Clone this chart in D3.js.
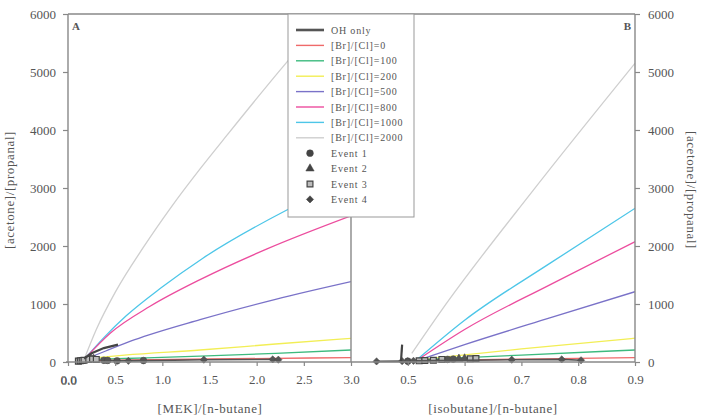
<!DOCTYPE html>
<html>
<head>
<meta charset="utf-8">
<script src="https://cdn.jsdelivr.net/npm/d3@7"></script>
<style>
  body { margin: 0; background: #fff; }
  text { font-family: 'Liberation Serif', 'DejaVu Serif', serif; fill: #555; }
</style>
</head>
<body>
<div id="chart"></div>
<script>
// legend / series names
var seriesNames = ['[Br]/[Cl]=0', '[Br]/[Cl]=100', '[Br]/[Cl]=200', '[Br]/[Cl]=500',
                   '[Br]/[Cl]=800', '[Br]/[Cl]=1000', '[Br]/[Cl]=2000'];
var seriesColors = ['#ef6a6a', '#3dba7e', '#f2ee55', '#7a72c8', '#ec4d9e', '#4dc6e8', '#cfcfcf'];
var eventNames = ['Event 1', 'Event 2', 'Event 3', 'Event 4'];

// panel A: x = [MEK]/[n-butane], y = [acetone]/[propanal]
var ohA = [[0.17, 60], [0.25, 150], [0.38, 240], [0.53, 300]];
var a0 = [[0.16, 20], [0.5, 30], [1.5, 52], [3.0, 75]];
var a100 = [[0.18, 40], [0.6, 60], [1.4, 100], [2.2, 150], [3.0, 207]];
var a200 = [[0.2, 60], [0.6, 120], [1.4, 207], [2.2, 310], [3.0, 408]];
var a500 = [[0.2, 60], [0.4, 190], [0.7, 380], [1.4, 730], [2.2, 1080], [3.0, 1385]];
var a800 = [[0.18, 60], [0.45, 500], [0.87, 960], [1.4, 1420], [2.11, 1950], [3.0, 2520]];
var a1000 = [[0.18, 60], [0.38, 420], [0.62, 800], [0.98, 1270], [1.43, 1790], [2.32, 2620], [3.0, 3150]];
var a2000 = [[0.16, 0], [0.3, 560], [0.5, 1200], [0.8, 1980], [1.1, 2685], [1.4, 3330], [1.69, 3920], [2.32, 5170], [2.7, 5880]];

// panel B: x = [isobutane]/[n-butane]
var ohB = [[0.488, 10], [0.49, 300]];
var b0 = [[0.5, 20], [0.7, 50], [0.9, 75]];
var b100 = [[0.52, 40], [0.7, 120], [0.9, 207]];
var b200 = [[0.52, 40], [0.7, 225], [0.9, 410]];
var b500 = [[0.515, 20], [0.6, 300], [0.75, 760], [0.9, 1212]];
var b800 = [[0.515, 20], [0.6, 560], [0.75, 1330], [0.9, 2075]];
var b1000 = [[0.515, 30], [0.6, 720], [0.75, 1700], [0.9, 2650]];
var b2000 = [[0.507, 150], [0.56, 900], [0.72, 2950], [0.9, 5150]];

// measured events
var ev1A = [[0.38, 30], [0.42, 28], [0.52, 20], [0.8, 25]];
var ev2A = [[0.24, 60], [0.27, 55]];
var ev3A = [[0.11, 15], [0.13, 20], [0.15, 25], [0.17, 30], [0.22, 45], [0.26, 50], [0.3, 45]];
var ev4A = [[0.64, 20], [1.44, 40], [2.17, 45], [2.23, 40]];
var ev1B = [[0.5, 15], [0.57, 45], [0.58, 50]];
var ev2B = [[0.59, 55], [0.6, 60]];
var ev3B = [[0.52, 20], [0.53, 25], [0.545, 30], [0.56, 45], [0.61, 55], [0.62, 60]];
var ev4B = [[0.445, 10], [0.49, 15], [0.5, 10], [0.51, 20], [0.683, 40], [0.771, 45], [0.805, 30]];

var yTicks = [0, 1000, 2000, 3000, 4000, 5000, 6000];
var xTicksA = [0, 0.5, 1.0, 1.5, 2.0, 2.5, 3.0];
var xTicksB = [0.5, 0.6, 0.7, 0.8, 0.9];

var width = 704, height = 417;
var pLeft = 68, pMid = 351, pRight = 635, pTop = 14, pBottom = 362;

var svg = d3.select('#chart')
    .append('svg')
    .attr('width', width)
    .attr('height', height);

var xA = d3.scaleLinear().domain([0, 3]).range([pLeft, pMid]);
var xB = d3.scaleLinear().domain([0.4, 0.9]).range([pMid, pRight]);
var y = d3.scaleLinear().domain([0, 6000]).range([pBottom, pTop]);

// circle, triangle, square, diamond (square turned 45 degrees)
var symbols = [d3.symbolCircle, d3.symbolTriangle, d3.symbolSquare, d3.symbolSquare];
var symSizes = [36, 30, 34, 26];
var symRotate = [0, 0, 0, 45];

var defs = svg.append('defs');
defs.append('clipPath').attr('id', 'clipA')
    .append('rect').attr('x', pLeft).attr('y', pTop).attr('width', pMid - pLeft).attr('height', pBottom - pTop + 6);
defs.append('clipPath').attr('id', 'clipB')
    .append('rect').attr('x', pMid).attr('y', pTop).attr('width', pRight - pMid).attr('height', pBottom - pTop + 6);

function drawPanel(x, clipId, oh, curves, events) {
    var g = svg.append('g').attr('clip-path', 'url(#' + clipId + ')');
    var line = d3.line()
        .x(function(d) { return x(d[0]); })
        .y(function(d) { return y(d[1]); })
        .curve(d3.curveMonotoneX);

    // model curves, grey first so it sits underneath
    for (var i = curves.length - 1; i >= 0; i--) {
        g.append('path')
            .datum(curves[i])
            .attr('d', line)
            .attr('fill', 'none')
            .attr('stroke', seriesColors[i])
            .attr('stroke-width', 1.3);
    }

    // events: joined by a dark line, then symbols
    events.forEach(function(ev, k) {
        g.append('path')
            .datum(ev)
            .attr('d', d3.line().x(function(d) { return x(d[0]); }).y(function(d) { return y(d[1]); }))
            .attr('fill', 'none')
            .attr('stroke', '#555')
            .attr('stroke-width', 1.6);
        g.selectAll('.ev' + k)
            .data(ev)
            .enter()
            .append('path')
            .attr('class', 'ev' + k)
            .attr('d', d3.symbol().type(symbols[k]).size(symSizes[k]))
            .attr('transform', function(d) {
                return 'translate(' + x(d[0]) + ',' + y(d[1]) + ') rotate(' + symRotate[k] + ')';
            })
            .attr('fill', k == 2 ? '#bbb' : '#555')
            .attr('stroke', '#444')
            .attr('stroke-width', k == 2 ? 1.2 : 0.5);
    });

    var ohLine = d3.line()
        .x(function(d) { return x(d[0]); })
        .y(function(d) { return y(d[1]); });
    g.append('path')
        .datum(oh)
        .attr('d', ohLine)
        .attr('fill', 'none')
        .attr('stroke', '#444')
        .attr('stroke-width', 2.2);
}

drawPanel(xA, 'clipA', ohA, [a0, a100, a200, a500, a800, a1000, a2000], [ev1A, ev2A, ev3A, ev4A]);
drawPanel(xB, 'clipB', ohB, [b0, b100, b200, b500, b800, b1000, b2000], [ev1B, ev2B, ev3B, ev4B]);

// axes
function styleAxis(sel) {
    sel.select('.domain').remove();
    sel.selectAll('line').attr('stroke', '#888').attr('stroke-width', 1.2);
    sel.selectAll('text')
        .style('font-family', "'Liberation Serif', serif")
        .style('font-size', '13px')
        .attr('fill', '#555');
}

svg.append('g')
    .attr('transform', 'translate(' + pLeft + ',0)')
    .call(d3.axisLeft(y).tickValues(yTicks).tickSize(5).tickPadding(7).tickFormat(d3.format('d')))
    .call(styleAxis);

svg.append('g')
    .attr('transform', 'translate(' + pRight + ',0)')
    .call(d3.axisRight(y).tickValues(yTicks).tickSize(5).tickPadding(8).tickFormat(d3.format('d')))
    .call(styleAxis);

svg.append('g')
    .attr('transform', 'translate(0,' + pBottom + ')')
    .call(d3.axisBottom(xA).tickValues(xTicksA).tickSize(4).tickPadding(9).tickFormat(d3.format('.1f')))
    .call(styleAxis);

svg.append('g')
    .attr('transform', 'translate(0,' + pBottom + ')')
    .call(d3.axisBottom(xB).tickValues(xTicksB).tickSize(4).tickPadding(9).tickFormat(d3.format('.1f')))
    .call(styleAxis);

// the doubled 0.0 label at the origin
svg.append('text')
    .attr('x', xA(0) + 0.8)
    .attr('y', pBottom + 13 + 9.5)
    .attr('text-anchor', 'middle')
    .style('font-size', '13px')
    .text('0.0');

// frame
var frame = [[pLeft, pTop, pRight, pTop], [pLeft, pTop, pLeft, pBottom], [pRight, pTop, pRight, pBottom],
             [pMid, pTop, pMid, pBottom], [pLeft - 2, pBottom, pRight, pBottom]];
svg.selectAll('.frame')
    .data(frame)
    .enter()
    .append('line')
    .attr('x1', function(d) { return d[0]; })
    .attr('y1', function(d) { return d[1]; })
    .attr('x2', function(d) { return d[2]; })
    .attr('y2', function(d) { return d[3]; })
    .attr('stroke', '#888')
    .attr('stroke-width', 1.4);

// panel letters
svg.append('text').attr('x', 72).attr('y', 30)
    .style('font-size', '11px').style('font-weight', 'bold').attr('fill', '#333').text('A');
svg.append('text').attr('x', 631).attr('y', 30).attr('text-anchor', 'end')
    .style('font-size', '11px').style('font-weight', 'bold').attr('fill', '#333').text('B');

// axis titles
svg.append('text')
    .attr('x', 210).attr('y', 413)
    .attr('text-anchor', 'middle')
    .style('font-size', '13px').style('letter-spacing', '0.6px')
    .text('[MEK]/[n-butane]');
svg.append('text')
    .attr('x', 493).attr('y', 413)
    .attr('text-anchor', 'middle')
    .style('font-size', '13px').style('letter-spacing', '0.6px')
    .text('[isobutane]/[n-butane]');
svg.append('text')
    .attr('transform', 'translate(14,190) rotate(-90)')
    .attr('text-anchor', 'middle')
    .style('font-size', '13px').style('letter-spacing', '0.6px')
    .text('[acetone]/[propanal]');
svg.append('text')
    .attr('transform', 'translate(687,190) rotate(90)')
    .attr('text-anchor', 'middle')
    .style('font-size', '13px').style('letter-spacing', '0.6px')
    .text('[acetone]/[propanal]');

// legend
var legend = svg.append('g');
legend.append('rect')
    .attr('x', 288).attr('y', 14)
    .attr('width', 126).attr('height', 203)
    .attr('fill', '#fff')
    .attr('stroke', '#999')
    .attr('stroke-width', 1);

var rowY = function(i) { return 30 + i * 15.4; };
var lineItems = ['OH only'].concat(seriesNames);
var lineColors = ['#555'].concat(seriesColors);

legend.selectAll('.lgline')
    .data(lineItems)
    .enter()
    .append('line')
    .attr('x1', 296).attr('x2', 324)
    .attr('y1', function(d, i) { return rowY(i); })
    .attr('y2', function(d, i) { return rowY(i); })
    .attr('stroke', function(d, i) { return lineColors[i]; })
    .attr('stroke-width', function(d, i) { return i == 0 ? 2.6 : 1.4; });

legend.selectAll('.lgsym')
    .data(eventNames)
    .enter()
    .append('path')
    .attr('d', function(d, k) { return d3.symbol().type(symbols[k]).size(symSizes[k])(); })
    .attr('transform', function(d, k) { return 'translate(310,' + rowY(k + 8) + ') rotate(' + symRotate[k] + ')'; })
    .attr('fill', function(d, k) { return k == 2 ? '#bbb' : '#444'; })
    .attr('stroke', '#444')
    .attr('stroke-width', function(d, k) { return k == 2 ? 1.2 : 0.5; });

legend.selectAll('.lgtext')
    .data(lineItems.concat(eventNames))
    .enter()
    .append('text')
    .attr('x', 331)
    .attr('y', function(d, i) { return rowY(i) + 3.5; })
    .style('font-size', '10px')
    .style('letter-spacing', '0.8px')
    .text(function(d) { return d; });
</script>
</body>
</html>
